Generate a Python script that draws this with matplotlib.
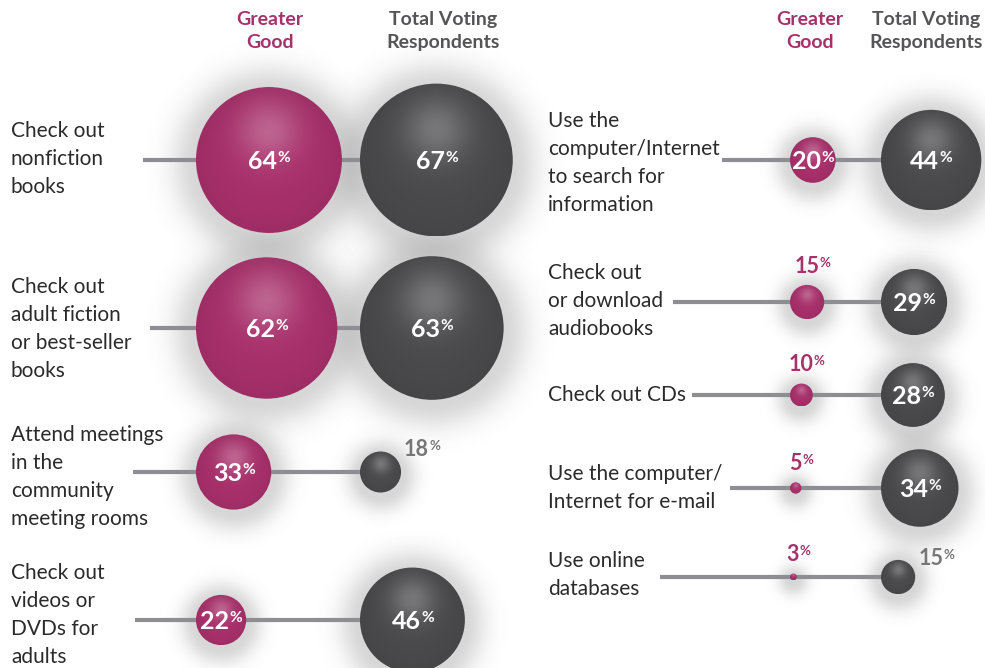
import numpy as np
import matplotlib
matplotlib.use("Agg")
from matplotlib import pyplot as plt
from matplotlib.patches import Circle

plt.rcParams['font.family'] = ['Lato', 'DejaVu Sans']

# survey shares (%)
left_labels = ["Check out\nnonfiction\nbooks",
               "Check out\nadult fiction\nor best-seller\nbooks",
               "Attend meetings\nin the\ncommunity\nmeeting rooms",
               "Check out\nvideos or\nDVDs for\nadults"]
left_gg = [64, 62, 33, 22]
left_tv = [67, 63, 18, 46]

right_labels = ["Use the\ncomputer/Internet\nto search for\ninformation",
                "Check out\nor download\naudiobooks",
                "Check out CDs",
                "Use the computer/\nInternet for e-mail",
                "Use online\ndatabases"]
right_gg = [20, 15, 10, 5, 3]
right_tv = [44, 29, 28, 34, 15]

MAGENTA = "#a8306b"
GRAY = "#4a4a4d"
LINE = "#8e8e92"
TEXT = "#2b2b2b"
K = 1.14  # px of radius per percent

W, H = 985, 668
fig = plt.figure(figsize=(W / 100, H / 100), dpi=100)
ax = fig.add_axes([0, 0, 1, 1])
ax.set_xlim(0, W)
ax.set_ylim(H, 0)
ax.axis("off")
renderer = fig.canvas.get_renderer()


def sphere(cx, cy, r, color):
    # soft drop shadow
    s = 0.14 * r + 8
    R = r + 3.5 * s
    n = 160
    g = np.linspace(-R, R, n)
    xx, yy = np.meshgrid(g, g)
    d = np.hypot(xx, yy - 4)
    a = 0.24 * np.exp(-np.maximum(d - r, 0) ** 2 / (2 * s ** 2))
    img = np.zeros((n, n, 4))
    img[..., :3] = 0.35
    img[..., 3] = a
    ax.imshow(img, extent=[cx - R, cx + R, cy + R, cy - R], origin="upper",
              interpolation="bilinear", zorder=1)
    # shaded ball with a highlight up top
    n = 200
    g = np.linspace(-1, 1, n)
    u, v = np.meshgrid(g, g)
    h = 0.25 * np.exp(-(u ** 2 + (v + 0.4) ** 2) / (2 * 0.3 ** 2))
    base = np.array(matplotlib.colors.to_rgb(color))
    col = base[None, None, :] * (1 - h[..., None]) + h[..., None]
    col *= (1 - 0.06 * np.clip(np.hypot(u, v), 0, 1) ** 3)[..., None]
    im = ax.imshow(np.clip(col, 0, 1), extent=[cx - r, cx + r, cy + r, cy - r],
                   origin="upper", interpolation="bilinear", zorder=3)
    clip = Circle((cx, cy), r, transform=ax.transData)
    im.set_clip_path(clip)


def pct_label(x, y, value, color, size, align="center"):
    # number with a small raised percent sign, both on the digits' cap line
    ps = 0.62
    cap = 0.72 * size * 100 / 72
    cap_s = 0.72 * size * ps * 100 / 72
    num = ax.text(x, y + cap / 2, str(value), fontsize=size, fontweight="bold",
                  color=color, ha="left", va="baseline", zorder=5)
    sign = ax.text(x, y - cap / 2 + cap_s, "%", fontsize=size * ps,
                   fontweight="bold", color=color, ha="left", va="baseline",
                   zorder=5)
    w1 = num.get_window_extent(renderer).width
    w2 = sign.get_window_extent(renderer).width
    x0 = x - (w1 + w2) / 2 if align == "center" else x
    num.set_x(x0)
    sign.set_x(x0 + w1 + 0.5)


def panel(labels, gg, tv, rows_y, text_y, label_x, line_x, gg_left, tv_left):
    for lab, a, b, y, ty, lx in zip(labels, gg, tv, rows_y, text_y, line_x):
        ra, rb = K * a, K * b
        ca, cb = gg_left + ra, tv_left + rb
        ax.text(label_x, ty, lab, fontsize=15, color=TEXT, ha="left",
                va="center", linespacing=1.5, zorder=5)
        ax.plot([lx, cb], [y, y], color=LINE, lw=3, solid_capstyle="butt",
                zorder=2)
        sphere(ca, y, ra, MAGENTA)
        sphere(cb, y, rb, GRAY)
        if a >= 20:
            pct_label(ca, y, a, "white", 18)
        else:
            pct_label(ca + 5, y - ra - 20, a, MAGENTA, 15.5)
        if b >= 20:
            pct_label(cb, y, b, "white", 18)
        else:
            pct_label(cb + rb + 3, y - rb - 3, b, "#777779", 15.5, align="left")


def headers(x_gg, x_tv):
    ax.text(x_gg, 31, "Greater\nGood", fontsize=14, fontweight="bold",
            color=MAGENTA, ha="center", va="center", linespacing=1.45)
    ax.text(x_tv, 31, "Total Voting\nRespondents", fontsize=14,
            fontweight="bold", color="#555557", ha="center", va="center",
            linespacing=1.45)


headers(270, 443)
headers(810, 926)

panel(left_labels, left_gg, left_tv, [160, 328, 472, 620],
      [159, 329, 477, 615], 11, [143, 150, 133, 135], 196, 360)
panel(right_labels, right_gg, right_tv, [160, 302, 395, 488, 577],
      [163, 301, 395, 488, 575], 548, [722, 673, 692, 730, 660], 790, 881)

fig.savefig("out.png", dpi=100)
